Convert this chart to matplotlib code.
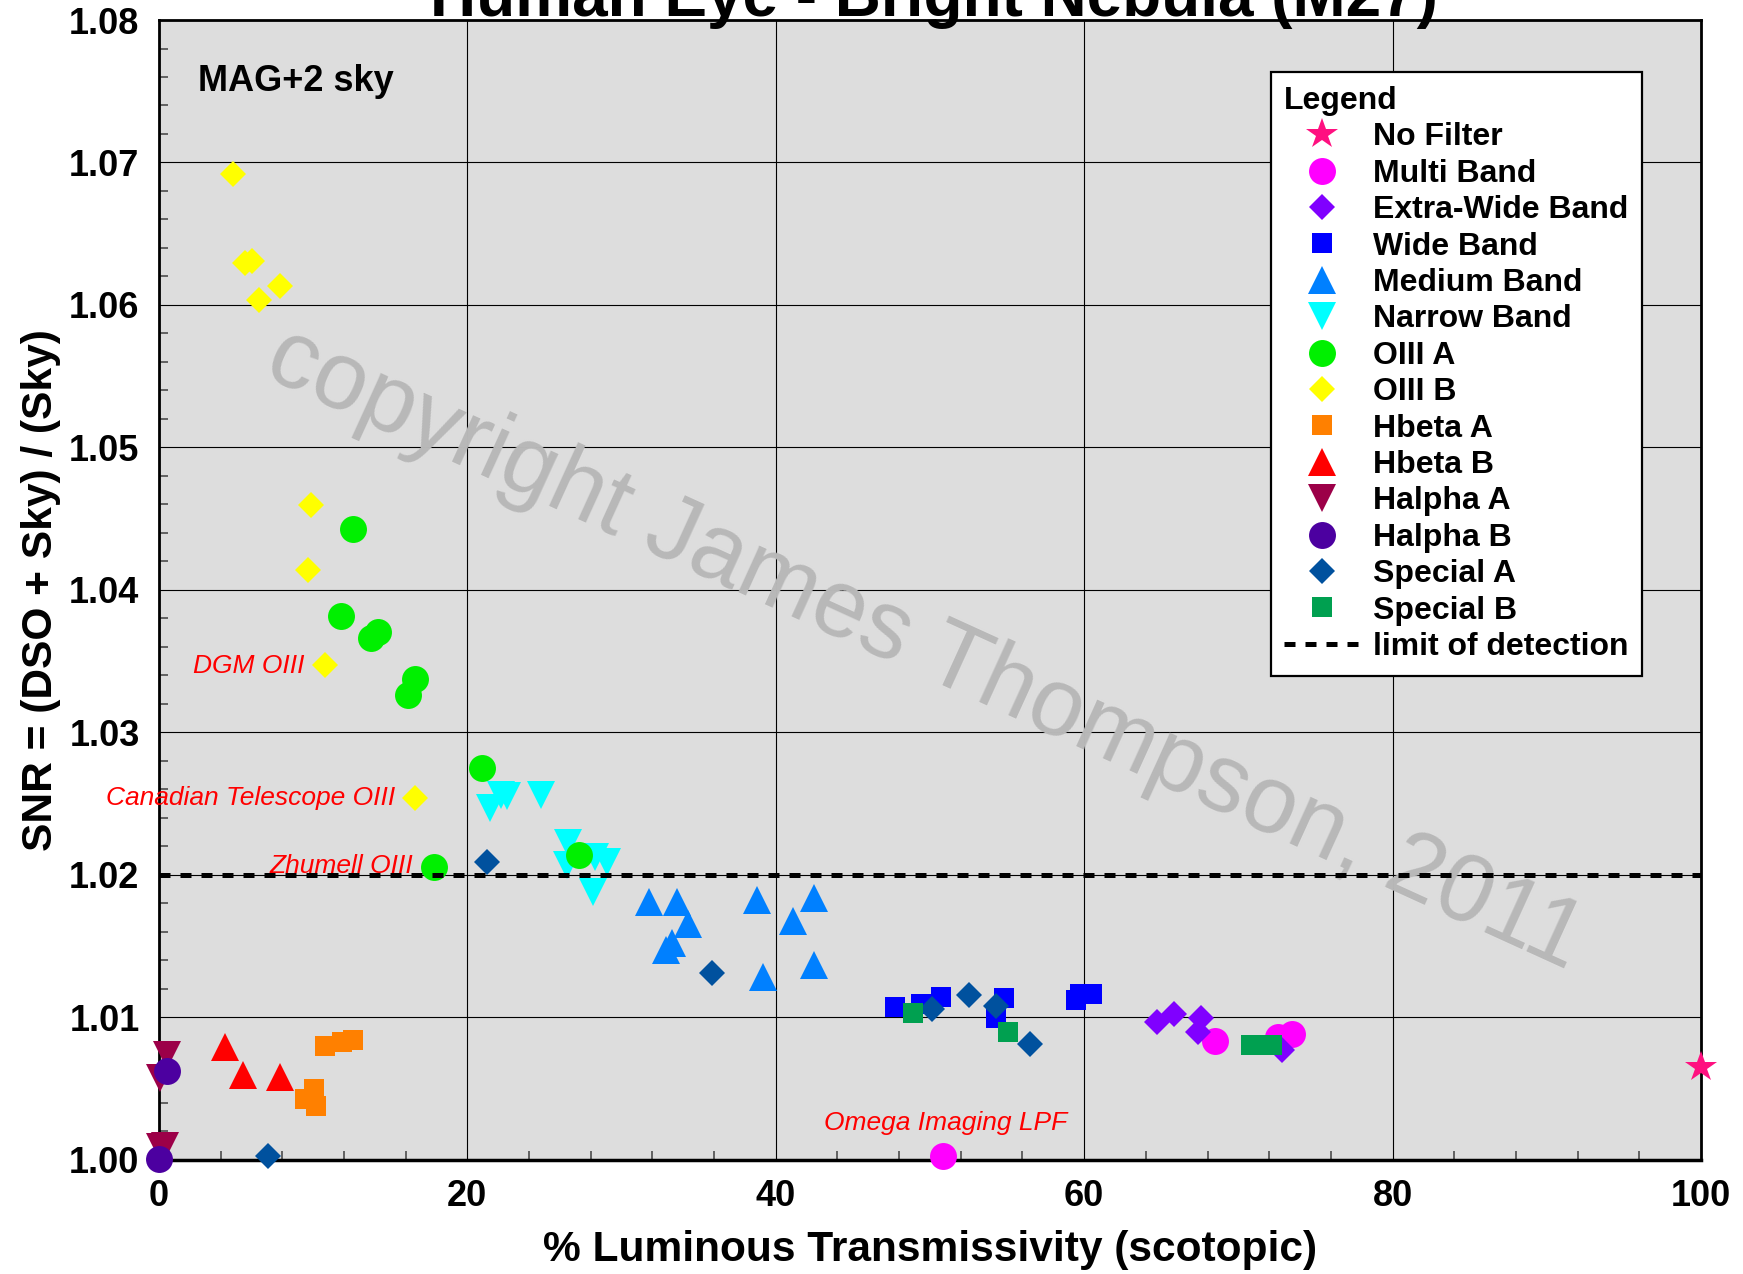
import matplotlib
matplotlib.use("Agg")
import matplotlib.pyplot as plt
from matplotlib.ticker import MultipleLocator, FormatStrFormatter

plt.rcParams['font.family'] = ['Liberation Sans', 'DejaVu Sans']

#------------------------------- data
no_filter_x = [100.0]
no_filter_y = [1.00655]

multi_x = [50.85, 68.5, 72.6, 73.5]
multi_y = [1.0003, 1.00837, 1.00865, 1.00882]

xwide_x = [64.7, 65.8, 67.6, 67.4, 72.8]
xwide_y = [1.00970, 1.01025, 1.00995, 1.00900, 1.00770]

wide_x = [47.7, 49.4, 50.7, 54.3, 54.8, 59.5, 59.7, 60.5]
wide_y = [1.01072, 1.01097, 1.01142, 1.00998, 1.01135, 1.01123, 1.01165, 1.01165]

medium_x = [31.8, 33.57, 34.33, 33.3, 32.9, 38.76, 39.2, 41.1, 42.5, 42.48]
medium_y = [1.01813, 1.01808, 1.01656, 1.01521, 1.01474, 1.01825, 1.01287, 1.01680, 1.01836, 1.01368]

narrow_x = [21.5, 22.16, 22.6, 24.8, 26.5, 26.45, 28.17, 28.28, 29.03]
narrow_y = [1.02468, 1.02561, 1.02554, 1.02561, 1.02222, 1.02070, 1.01883, 1.02128, 1.02093]

oiii_a_x = [12.56, 11.8, 13.77, 14.2, 16.6, 16.18, 20.93, 17.83, 27.26]
oiii_a_y = [1.04426, 1.03818, 1.03661, 1.03703, 1.03375, 1.03261, 1.02749, 1.02058, 1.02140]

oiii_b_x = [4.83, 5.55, 6.05, 6.48, 7.84, 9.84, 9.66, 10.74, 16.58]
oiii_b_y = [1.06917, 1.06293, 1.06309, 1.06035, 1.06135, 1.04599, 1.04141, 1.03471, 1.02543]

hbeta_a_x = [10.77, 11.85, 12.6, 10.07, 9.47, 10.16]
hbeta_a_y = [1.00802, 1.00826, 1.00842, 1.00498, 1.00428, 1.00381]

hbeta_b_x = [4.28, 5.43, 7.85]
hbeta_b_y = [1.00795, 1.00597, 1.00585]

halpha_a_x = [0.5, 0.06, 0.05, 0.4]
halpha_a_y = [1.00737, 1.00573, 1.00093, 1.00100]

halpha_b_x = [0.54, 0.02]
halpha_b_y = [1.00627, 1.0001]

special_a_x = [7.05, 21.25, 35.88, 50.1, 52.55, 54.26, 56.5]
special_a_y = [1.00028, 1.02089, 1.01310, 1.01057, 1.01158, 1.01081, 1.00814]

special_b_x = [48.9, 55.05, 70.8, 71.5, 72.2]
special_b_y = [1.0103, 1.0090, 1.00807, 1.00807, 1.00807]

detection_limit = 1.02

x_ticks = [0, 20, 40, 60, 80, 100]
y_ticks = [1.00, 1.01, 1.02, 1.03, 1.04, 1.05, 1.06, 1.07, 1.08]

notes = [("DGM OIII", 9.47, 1.03467, 'right'),
         ("Canadian Telescope OIII", 15.3, 1.0254, 'right'),
         ("Zhumell OIII", 16.47, 1.02063, 'right'),
         ("Omega Imaging LPF", 51.0, 1.00263, 'center')]

# label, x, y, marker, size, colour
series = [
    ("No Filter", no_filter_x, no_filter_y, '*', 23.5, '#ff1080'),
    ("Multi Band", multi_x, multi_y, 'o', 19.4, '#ff00ff'),
    ("Extra-Wide Band", xwide_x, xwide_y, 'D', 13.7, '#8000ff'),
    ("Wide Band", wide_x, wide_y, 's', 14.8, '#0000ff'),
    ("Medium Band", medium_x, medium_y, '^', 19.8, '#0080ff'),
    ("Narrow Band", narrow_x, narrow_y, 'v', 19.8, '#00ffff'),
    ("OIII A", oiii_a_x, oiii_a_y, 'o', 19.4, '#00f000'),
    ("OIII B", oiii_b_x, oiii_b_y, 'D', 13.7, '#ffff00'),
    ("Hbeta A", hbeta_a_x, hbeta_a_y, 's', 14.8, '#ff8000'),
    ("Hbeta B", hbeta_b_x, hbeta_b_y, '^', 19.8, '#ff0000'),
    ("Halpha A", halpha_a_x, halpha_a_y, 'v', 19.8, '#9c0048'),
    ("Halpha B", halpha_b_x, halpha_b_y, 'o', 19.4, '#4c00a0'),
    ("Special A", special_a_x, special_a_y, 'D', 13.7, '#00519e'),
    ("Special B", special_b_x, special_b_y, 's', 14.8, '#00a050'),
]

#------------------------------- figure
fig = plt.figure(figsize=(17.43, 12.74), dpi=100)
ax = fig.add_axes([0.0912, 0.0895, 0.8847, 0.8948])
ax.set_facecolor('#dddddd')
ax.set_xlim(0, 100)
ax.set_ylim(1.0, 1.08)

ax.set_xticks(x_ticks)
ax.set_yticks(y_ticks)
ax.yaxis.set_major_formatter(FormatStrFormatter('%.2f'))
ax.xaxis.set_minor_locator(MultipleLocator(4))
ax.yaxis.set_minor_locator(MultipleLocator(0.002))
ax.tick_params(which='major', length=0, pad=14, labelsize=26)
ax.tick_params(which='minor', direction='in', length=6.5, width=1.1, color='#404040')
for lab in ax.get_xticklabels() + ax.get_yticklabels():
    lab.set_fontweight('bold')
ax.grid(True, which='major', color='black', linewidth=0.8, zorder=1)
ax.set_axisbelow(True)
for side in ['top', 'right', 'left']:
    ax.spines[side].set_linewidth(2.0)
ax.spines['bottom'].set_linewidth(2.5)

# watermark
ax.text(0.497, 0.448, "copyright James Thompson, 2011", transform=ax.transAxes,
        rotation=-24.5, rotation_mode='anchor', ha='center', va='center',
        fontsize=69, color='#b8b8b8', zorder=1.5)

handles = []
for i, (name, xs, ys, mk, ms, col) in enumerate(series):
    h, = ax.plot(xs, ys, linestyle='none', marker=mk, markersize=ms,
                 color=col, markeredgewidth=0, label=name,
                 clip_on=False, zorder=3 + i * 0.01)
    handles.append(h)

lim, = ax.plot([0, 100], [detection_limit, detection_limit], color='black',
               linewidth=3.6, linestyle=(0, (2.2, 2.0)), zorder=4,
               label='limit of detection')
handles.append(lim)

for txt, x, y, ha in notes:
    ax.text(x, y, txt, color='red', style='italic', fontsize=19,
            ha=ha, va='center', zorder=3.5)

ax.text(0.0253, 0.938, "MAG+2 sky", transform=ax.transAxes, fontsize=26,
        fontweight='bold', va='baseline', ha='left')

leg = ax.legend(handles=handles, loc='upper left', bbox_to_anchor=(0.7209, 0.9541),
                borderaxespad=0, title='Legend', alignment='left',
                prop={'size': 23, 'weight': 'bold'},
                title_fontproperties={'size': 23, 'weight': 'bold'},
                frameon=True, fancybox=False, framealpha=1, edgecolor='black',
                borderpad=0.43, labelspacing=0.2, handlelength=2.37,
                handletextpad=0.4, numpoints=1)
leg.get_frame().set_linewidth(1.6)
leg.set_zorder(10)

fig.text(934 / 1743, 1 - 16 / 1274, "Human Eye - Bright Nebula (M27)",
         ha='center', va='baseline', fontsize=46, fontweight='bold')
fig.text(930 / 1743, 1 - 1250 / 1274, "% Luminous Transmissivity (scotopic)",
         ha='center', va='center', fontsize=30.6, fontweight='bold')
fig.text(41 / 1743, 1 - 590 / 1274, "SNR = (DSO + Sky) / (Sky)", rotation=90,
         ha='center', va='center', fontsize=30.6, fontweight='bold')

fig.savefig('out.png', dpi=100)
